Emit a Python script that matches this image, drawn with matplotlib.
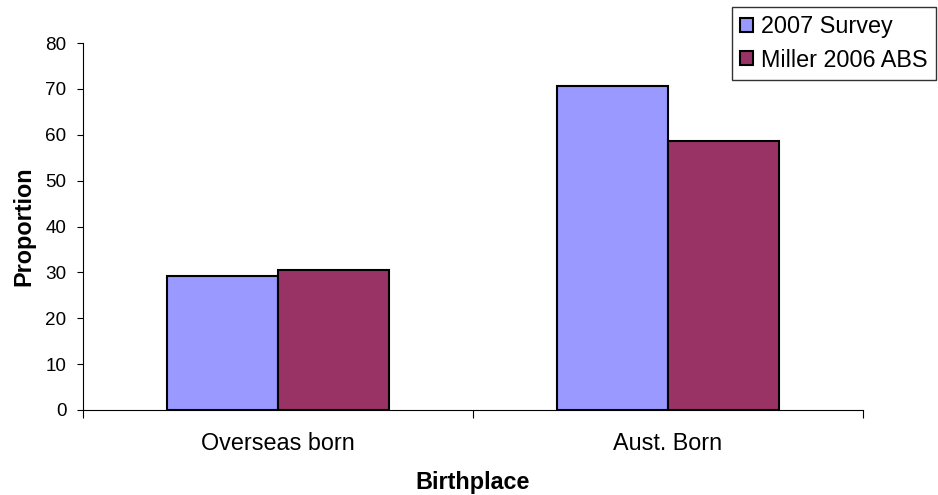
import numpy as np
import matplotlib.pyplot as plt

plt.rcParams['font.family'] = ['Liberation Sans', 'DejaVu Sans']

categories = ['Overseas born', 'Aust. Born']
survey_2007 = [29.3, 70.6]
miller_2006 = [30.5, 58.6]
series_names = ['2007 Survey', 'Miller 2006 ABS']

fig = plt.figure(figsize=(9.38, 4.95), dpi=100)
ax = fig.add_axes([83/938, 85/495, 780/938, 367/495])

x = np.arange(len(categories))
w = 1/3.5
ax.bar(x - w/2, survey_2007, w, color='#9999FF', edgecolor='black', linewidth=1.5, label=series_names[0])
ax.bar(x + w/2, miller_2006, w, color='#993366', edgecolor='black', linewidth=1.5, label=series_names[1])

ax.set_xlim(-0.5, 1.5)
ax.set_ylim(0, 80)
ax.set_yticks(np.arange(0, 81, 10))
ax.set_xticks(x)
ax.set_xticklabels(categories, fontsize=16.8)
ax.set_xticks([-0.5, 0.5, 1.5], minor=True)
ax.tick_params(axis='x', which='major', length=0, pad=16)
ax.tick_params(axis='x', which='minor', length=5.8, width=0.8, direction='out')
ax.tick_params(axis='y', labelsize=13.6, length=4.3, width=0.8, pad=7.5, direction='out')
for s in ['top', 'right']:
    ax.spines[s].set_visible(False)
for s in ['left', 'bottom']:
    ax.spines[s].set_linewidth(0.8)

ax.set_xlabel('Birthplace', fontsize=16.8, fontweight='bold')
ax.set_ylabel('Proportion', fontsize=16.8, fontweight='bold')
ax.xaxis.set_label_coords(0.5, -0.165)
ax.yaxis.set_label_coords(-0.0615, 0.5)

leg = ax.legend(loc='upper left', bbox_to_anchor=(732/938, 488/495), bbox_transform=fig.transFigure,
                fontsize=16.8, frameon=True, fancybox=False, edgecolor='black',
                handlelength=0.55, handleheight=0.55, handletextpad=0.35, borderpad=0.35,
                labelspacing=0.45, borderaxespad=0)
leg.get_frame().set_linewidth(1)

plt.savefig('out.png')
